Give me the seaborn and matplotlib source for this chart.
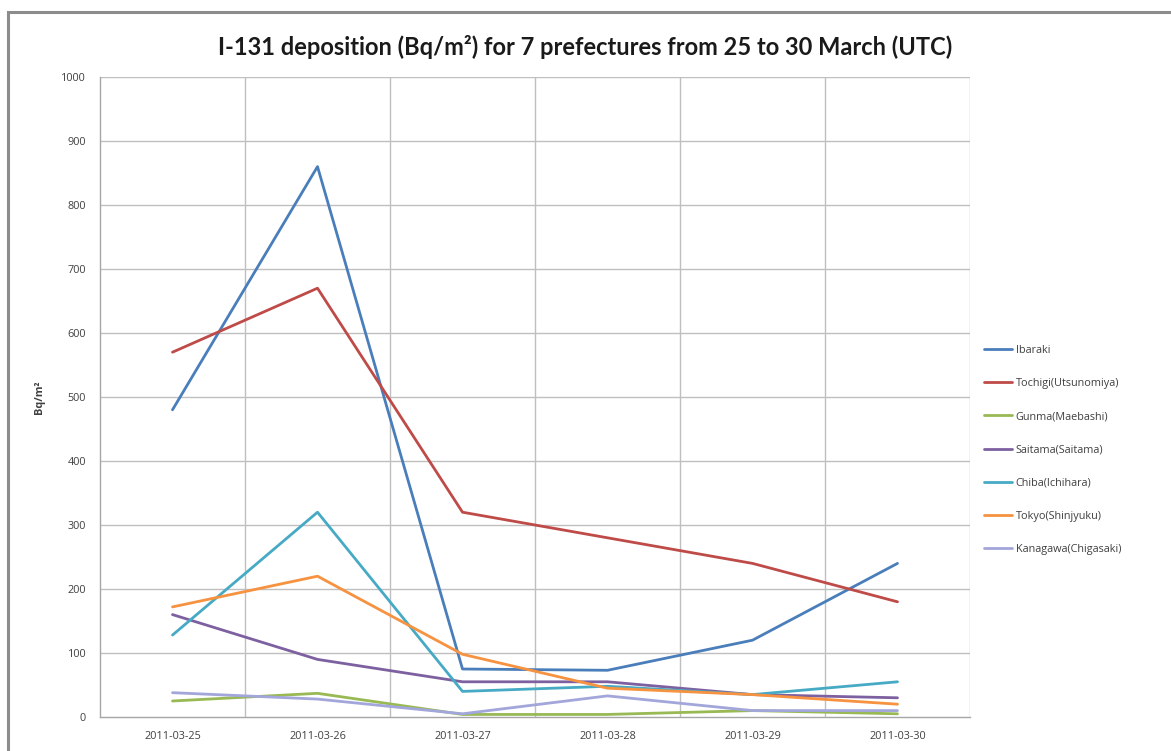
import matplotlib
matplotlib.use("Agg")
import matplotlib.pyplot as plt
from matplotlib.patches import Rectangle
import seaborn as sns
import pandas as pd

dates = ["2011-03-25", "2011-03-26", "2011-03-27", "2011-03-28", "2011-03-29", "2011-03-30"]
prefectures = ["Ibaraki", "Tochigi(Utsunomiya)", "Gunma(Maebashi)", "Saitama(Saitama)",
               "Chiba(Ichihara)", "Tokyo(Shinjyuku)", "Kanagawa(Chigasaki)"]
ibaraki = [480, 860, 75, 73, 120, 240]
tochigi = [570, 670, 320, 280, 240, 180]
gunma = [25, 37, 4, 4, 10, 5]
saitama = [160, 90, 55, 55, 35, 30]
chiba = [128, 320, 40, 48, 35, 55]
tokyo = [172, 220, 98, 45, 35, 20]
kanagawa = [38, 28, 5, 33, 10, 10]
colors = ["#4A7EBB", "#BE4B48", "#98B954", "#7D60A0", "#46AAC5", "#F69240", "#A2A6DA"]

series = [ibaraki, tochigi, gunma, saitama, chiba, tokyo, kanagawa]
rows = []
for name, vals in zip(prefectures, series):
    for i, (d, v) in enumerate(zip(dates, vals)):
        rows.append({"pos": i, "date": d, "prefecture": name, "value": v})
df = pd.DataFrame(rows)

sns.set_style("white")
plt.rcParams["font.family"] = ["Open Sans", "DejaVu Sans"]

fig = plt.figure(figsize=(11.71, 7.51), dpi=100)
fig.patch.set_facecolor("white")
# chart frame
fig.patches.append(Rectangle((8 / 1171, -0.02), 1.2, 1 - 12 / 751 + 0.02,
                             transform=fig.transFigure, fill=False,
                             edgecolor="#8c8c8c", linewidth=2.2))

ax = fig.add_axes([100 / 1171, 1 - 717 / 751, 870 / 1171, 640 / 751])
sns.lineplot(data=df, x="pos", y="value", hue="prefecture", hue_order=prefectures,
             palette=colors, linewidth=2.0, sort=False, ax=ax, legend=True)

ax.set_xlim(-0.5, 5.5)
ax.set_ylim(0, 1000)
ax.set_xticks(range(len(dates)))
ax.set_xticklabels(dates)
ax.set_yticks(range(0, 1001, 100))
ax.tick_params(axis="both", labelsize=7.8, labelcolor="#404040", length=0, pad=10)
ax.set_xlabel("")
ax.set_ylabel("Bq/m²", fontsize=7.8, fontweight="bold", color="#404040", labelpad=12)

# gridlines: horizontal at major ticks, vertical at category boundaries
for v in range(100, 1001, 100):
    ax.axhline(v, color="#bfbfbf", linewidth=1, zorder=0)
for b in [0.5, 1.5, 2.5, 3.5, 4.5, 5.5]:
    ax.axvline(b, color="#bfbfbf", linewidth=1, zorder=0)
for side in ["top", "right"]:
    ax.spines[side].set_visible(False)
for side in ["left", "bottom"]:
    ax.spines[side].set_color("#a6a6a6")
    ax.spines[side].set_linewidth(1)

fig.text(0.5, 1 - 47 / 751, "I-131 deposition (Bq/m²) for 7 prefectures from 25 to 30 March (UTC)",
         ha="center", va="center", fontsize=17, fontweight="bold", color="#1a1a1a",
         family=["Lato", "DejaVu Sans"])

handles, labels = ax.get_legend_handles_labels()
ax.legend(handles, labels, loc="upper left", bbox_to_anchor=(1.005, 0.597),
          frameon=False, fontsize=7.8, labelspacing=2.05, handlelength=2.6,
          handletextpad=0.3, labelcolor="#404040")
for line in ax.get_legend().get_lines():
    line.set_linewidth(2.0)

fig.savefig("out.png", dpi=100)
